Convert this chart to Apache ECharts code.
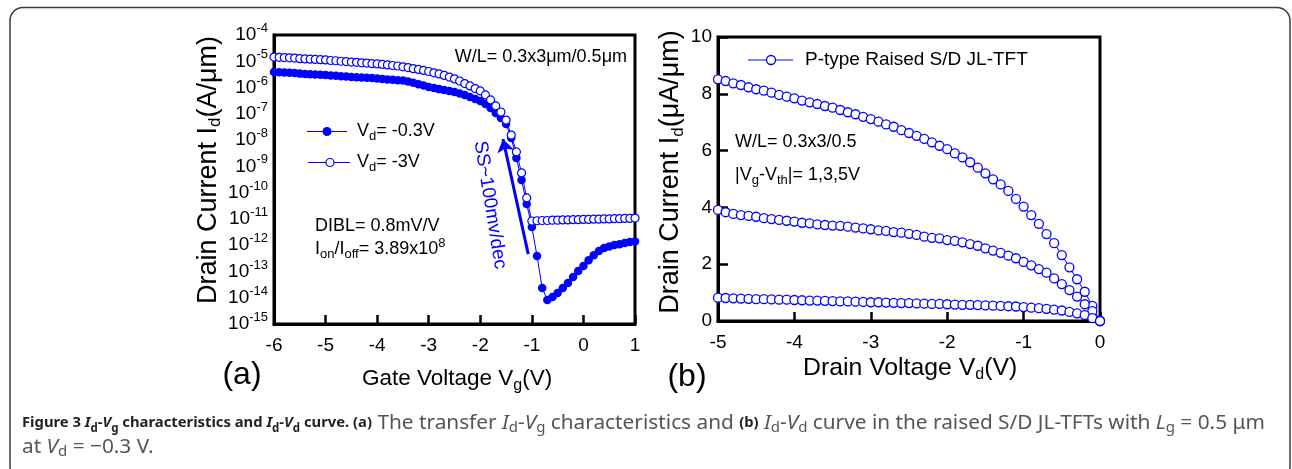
<!DOCTYPE html>
<html><head><meta charset="utf-8">
<script src="https://cdn.jsdelivr.net/npm/echarts@6/dist/echarts.min.js"></script>
<style>html,body{margin:0;padding:0;background:#fff}#c{width:1292px;height:469px}</style>
</head><body><div id="c"></div>
<script>
// ---------- Panel (a): Id-Vg, gate voltage (V) ----------
const vgTicks = [-6, -5, -4, -3, -2, -1, 0, 1];
const vg = [-6.0,-5.9,-5.8,-5.7,-5.6,-5.5,-5.4,-5.3,-5.2,-5.1,
  -5.0,-4.9,-4.8,-4.7,-4.6,-4.5,-4.4,-4.3,-4.2,-4.1,
  -4.0,-3.9,-3.8,-3.7,-3.6,-3.5,-3.4,-3.3,-3.2,-3.1,
  -3.0,-2.9,-2.8,-2.7,-2.6,-2.5,-2.4,-2.3,-2.2,-2.1,
  -2.0,-1.9,-1.8,-1.7,-1.6,-1.5,-1.4,-1.3,-1.2,-1.1,
  -1.0,-0.9,-0.8,-0.7,-0.6,-0.5,-0.4,-0.3,-0.2,-0.1,
  0.0,0.1,0.2,0.3,0.4,0.5,0.6,0.7,0.8,0.9,1.0];
// log10 of Id (A/um), Vd = -0.3 V (filled)
const logIdVd03 = [-5.41,-5.42,-5.43,-5.44,-5.45,-5.47,-5.48,-5.49,-5.50,-5.51,
  -5.52,-5.54,-5.55,-5.57,-5.58,-5.60,-5.61,-5.62,-5.63,-5.64,
  -5.66,-5.67,-5.69,-5.70,-5.72,-5.73,-5.77,-5.82,-5.87,-5.92,
  -5.98,-6.02,-6.06,-6.09,-6.13,-6.17,-6.23,-6.28,-6.36,-6.44,
  -6.51,-6.63,-6.78,-6.97,-7.16,-7.39,-7.92,-8.68,-9.52,-10.43,
  -11.31,-12.41,-13.63,-14.09,-13.97,-13.82,-13.63,-13.44,-13.21,-12.98,
  -12.79,-12.57,-12.38,-12.22,-12.11,-12.05,-11.99,-11.96,-11.92,-11.88,-11.86];
// log10 of Id (A/um), Vd = -3 V (open)
const logIdVd3 = [-4.84,-4.85,-4.86,-4.87,-4.88,-4.90,-4.91,-4.92,-4.93,-4.94,
  -4.95,-4.97,-4.98,-5.00,-5.01,-5.03,-5.04,-5.06,-5.07,-5.09,
  -5.10,-5.12,-5.14,-5.16,-5.18,-5.21,-5.24,-5.28,-5.31,-5.35,
  -5.39,-5.44,-5.48,-5.54,-5.60,-5.67,-5.75,-5.85,-5.94,-6.04,
  -6.13,-6.28,-6.47,-6.70,-6.93,-7.24,-7.81,-8.45,-9.25,-10.20,
  -11.08,-11.07,-11.06,-11.06,-11.05,-11.05,-11.04,-11.04,-11.03,-11.03,
  -11.02,-11.02,-11.01,-11.01,-11.00,-11.00,-10.99,-10.99,-10.98,-10.98,-10.97];
const idLogMin = -15, idLogMax = -4;
// SS arrow (Vg, log10 Id): tail -> head
const ssArrow = [[-1.07, -12.34], [-1.56, -7.96]];

// ---------- Panel (b): Id-Vd, drain voltage (V) ----------
const vdTicks = [-5, -4, -3, -2, -1, 0];
const vd = [-5.0,-4.9,-4.8,-4.7,-4.6,-4.5,-4.4,-4.3,-4.2,-4.1,
  -4.0,-3.9,-3.8,-3.7,-3.6,-3.5,-3.4,-3.3,-3.2,-3.1,
  -3.0,-2.9,-2.8,-2.7,-2.6,-2.5,-2.4,-2.3,-2.2,-2.1,
  -2.0,-1.9,-1.8,-1.7,-1.6,-1.5,-1.4,-1.3,-1.2,-1.1,
  -1.0,-0.9,-0.8,-0.7,-0.6,-0.5,-0.4,-0.3,-0.2,-0.1,0.0];
// Id (uA/um) for |Vg-Vth| = 5, 3, 1 V
const id5V = [8.51,8.45,8.37,8.31,8.23,8.16,8.11,8.04,7.96,7.90,
  7.84,7.76,7.70,7.64,7.57,7.51,7.43,7.35,7.28,7.19,
  7.11,7.02,6.92,6.84,6.72,6.62,6.52,6.41,6.29,6.17,
  6.05,5.90,5.76,5.59,5.40,5.20,4.99,4.81,4.58,4.30,
  4.03,3.73,3.42,3.06,2.74,2.32,1.89,1.47,1.03,0.53,0.0];
const id3V = [3.91,3.83,3.77,3.73,3.70,3.67,3.62,3.59,3.56,3.53,
  3.50,3.46,3.44,3.40,3.38,3.36,3.35,3.32,3.29,3.26,
  3.23,3.19,3.17,3.13,3.11,3.07,3.03,2.97,2.93,2.91,
  2.85,2.82,2.77,2.71,2.65,2.56,2.48,2.40,2.30,2.21,
  2.08,1.96,1.83,1.70,1.50,1.30,1.09,0.86,0.59,0.35,0.0];
const id1V = [0.82,0.81,0.80,0.79,0.78,0.77,0.77,0.76,0.75,0.75,
  0.74,0.73,0.72,0.72,0.71,0.70,0.69,0.69,0.68,0.67,
  0.66,0.66,0.65,0.64,0.63,0.63,0.62,0.61,0.60,0.60,
  0.59,0.58,0.57,0.57,0.56,0.55,0.54,0.53,0.52,0.51,
  0.49,0.47,0.45,0.43,0.40,0.37,0.32,0.27,0.21,0.10,0.0];
const idTicks = [0, 2, 4, 6, 8, 10];

// ---------- drawing ----------
const BLUE = '#0000ff';
const FF = '"Liberation Sans", Arial, Helvetica, sans-serif';
const CF = '"Noto Sans", "Open Sans", sans-serif';
const chart = echarts.init(document.getElementById('c'), null, {renderer: 'canvas'});

const pairs = (xs, ys, f) => xs.map((x, i) => [x, f ? f(ys[i]) : ys[i]]);
const pow10 = v => Math.pow(10, v);

// plain (non-rich) graphic text
function txt(x, y, text, o) {
  o = o || {};
  const fs = o.fontSize || 18;
  return {type: 'text', x: x, y: y, rotation: o.rotation || 0, silent: true, z: 100,
    style: {text: text, fontFamily: FF, fontSize: fs, fill: o.fill || '#000',
      align: o.align || 'left', textAlign: o.align || 'left',
      verticalAlign: 'middle', textVerticalAlign: 'middle'}};
}
// rich text label through the title component (left-aligned, centred on cy)
function rt(left, cy, text, fs, subFs, lh) {
  lh = lh || Math.round(fs * 1.35);
  return {left: left, top: cy - lh / 2, padding: 0, itemGap: 0, text: text,
    textStyle: {fontFamily: FF, fontSize: fs, fontWeight: 'normal', color: '#000', lineHeight: lh,
      rich: {
        sub: {fontFamily: FF, fontSize: subFs, fontWeight: 400, color: '#000', lineHeight: 12, verticalAlign: 'bottom'},
        sup: {fontFamily: FF, fontSize: subFs, fontWeight: 400, color: '#000', lineHeight: 12, verticalAlign: 'top'}
      }}};
}

const axisCommonX = (grid, ticks) => ({
  gridIndex: grid, type: 'value', min: ticks[0], max: ticks[ticks.length - 1], interval: 1,
  axisLine: {onZero: false, lineStyle: {color: '#000', width: 3}},
  axisTick: {inside: true, length: 9, lineStyle: {color: '#000', width: 2.5}},
  axisLabel: {color: '#000', fontFamily: FF, fontSize: 19, margin: 12},
  splitLine: {show: false}
});
const yNameStyle = (pad) => ({
  fontFamily: FF, fontSize: 27, color: '#000', lineHeight: 32, padding: [0, 0, 0, pad],
  rich: {sub: {fontFamily: FF, fontSize: 17, fontWeight: 400, color: '#000', lineHeight: 14, verticalAlign: 'bottom'}}
});

const caption =
  '{b|Figure 3 }{bi|I}{bsub|d}{b|-}{bi|V}{bsub|g}{b| characteristics and }{bi|I}{bsub|d}{b|-}{bi|V}{bsub|d}{b| curve. (a)}' +
  ' The transfer {i|I}{sub|d}-{i|V}{sub|g} characteristics and {b|(b)} {i|I}{sub|d}-{i|V}{sub|d}' +
  ' curve in the raised S/D JL-TFTs with {i|L}{sub|g} = 0.5 μm\nat {i|V}{sub|d} = −0.3 V.';
const capDark = '#231f20', capGrey = '#555557';
const CS = 20.8, CSS = 15, CB = 14.8;
const capRich = {
  b: {fontFamily: CF, fontSize: CB, fontWeight: 'bold', color: capDark, lineHeight: 24},
  bi: {fontFamily: CF, fontSize: CB, fontWeight: 'bold', fontStyle: 'italic', color: capDark, lineHeight: 24},
  bsub: {fontFamily: CF, fontSize: 11.5, fontWeight: 'bold', color: capDark, lineHeight: 12, verticalAlign: 'bottom'},
  i: {fontFamily: CF, fontSize: CS, fontWeight: 400, fontStyle: 'italic', color: capGrey, lineHeight: 24},
  sub: {fontFamily: CF, fontSize: CSS, fontWeight: 400, color: capGrey, lineHeight: 12, verticalAlign: 'bottom'}
};

const option = {
  animation: false,
  backgroundColor: '#fff',
  title: [
    {left: 22, top: 411, padding: 0, itemGap: 0, text: caption,
      textStyle: {fontFamily: CF, fontSize: CS, fontWeight: 'normal', color: capGrey, lineHeight: 24, rich: capRich}},
    rt(357, 131, 'V{sub|d}= -0.3V', 18, 13),
    rt(357, 162, 'V{sub|d}= -3V', 18, 13),
    rt(315, 249, 'I{sub|on}/I{sub|off}= 3.89x10{sup|8}', 18, 13),
    rt(735, 175, '|V{sub|g}-V{sub|th}|= 1,3,5V', 18, 13),
    rt(362, 379, 'Gate Voltage V{sub|g}(V)', 22.5, 16, 30),
    rt(803, 368, 'Drain Voltage V{sub|d}(V)', 24.8, 16, 30)
  ],
  grid: [
    {left: 274, top: 35, width: 361, height: 289, show: true, borderColor: '#000', borderWidth: 3, backgroundColor: 'transparent'},
    {left: 718, top: 37, width: 382, height: 284, show: true, borderColor: '#000', borderWidth: 3, backgroundColor: 'transparent'}
  ],
  xAxis: [axisCommonX(0, vgTicks), axisCommonX(1, vdTicks)],
  yAxis: [
    {gridIndex: 0, type: 'log', logBase: 10, min: pow10(idLogMin), max: pow10(idLogMax), interval: 1,
      name: 'Drain Current I{sub|d}(A/μm)', nameLocation: 'middle', nameRotate: 90, nameGap: 49,
      nameTextStyle: yNameStyle(19),
      axisLine: {onZero: false, lineStyle: {color: '#000', width: 3}},
      axisTick: {show: false}, splitLine: {show: false}, minorTick: {show: false},
      axisLabel: {color: '#000', fontFamily: FF, fontSize: 19, lineHeight: 26, margin: 6,
        formatter: v => '10{sup|' + Math.round(Math.log10(v)) + '}',
        rich: {sup: {fontFamily: FF, fontSize: 13, fontWeight: 400, lineHeight: 12, verticalAlign: 'top', color: '#000'}}}
    },
    {gridIndex: 1, type: 'value', min: idTicks[0], max: idTicks[idTicks.length - 1], interval: 2,
      name: 'Drain Current I{sub|d}(μA/μm)', nameLocation: 'middle', nameRotate: 90, nameGap: 23,
      nameTextStyle: yNameStyle(14),
      axisLine: {onZero: false, lineStyle: {color: '#000', width: 3}},
      axisTick: {inside: true, length: 10, lineStyle: {color: '#000', width: 2.5}},
      splitLine: {show: false},
      axisLabel: {color: '#000', fontFamily: FF, fontSize: 19, margin: 6}
    }
  ],
  series: [
    {name: 'Vd=-0.3V', type: 'line', xAxisIndex: 0, yAxisIndex: 0, data: pairs(vg, logIdVd03, pow10),
      symbol: 'circle', symbolSize: 8.5, itemStyle: {color: BLUE}, lineStyle: {color: BLUE, width: 1},
      z: 3,
      markLine: {silent: true, symbol: ['none', 'arrow'], symbolSize: 13, animation: false,
        label: {show: false}, lineStyle: {color: BLUE, width: 3, type: 'solid'},
        emphasis: {disabled: true},
        data: [[{coord: [ssArrow[0][0], pow10(ssArrow[0][1])]}, {coord: [ssArrow[1][0], pow10(ssArrow[1][1])]}]]}
    },
    {name: 'Vd=-3V', type: 'line', xAxisIndex: 0, yAxisIndex: 0, data: pairs(vg, logIdVd3, pow10),
      symbol: 'circle', symbolSize: 8, itemStyle: {color: '#fff', borderColor: BLUE, borderWidth: 1.2},
      lineStyle: {color: BLUE, width: 1}, z: 4},
    {name: '5V', type: 'line', xAxisIndex: 1, yAxisIndex: 1, data: pairs(vd, id5V),
      symbol: 'circle', symbolSize: 9, itemStyle: {color: '#fff', borderColor: BLUE, borderWidth: 1.3},
      lineStyle: {color: BLUE, width: 1}},
    {name: '3V', type: 'line', xAxisIndex: 1, yAxisIndex: 1, data: pairs(vd, id3V),
      symbol: 'circle', symbolSize: 9, itemStyle: {color: '#fff', borderColor: BLUE, borderWidth: 1.3},
      lineStyle: {color: BLUE, width: 1}},
    {name: '1V', type: 'line', xAxisIndex: 1, yAxisIndex: 1, data: pairs(vd, id1V),
      symbol: 'circle', symbolSize: 9, itemStyle: {color: '#fff', borderColor: BLUE, borderWidth: 1.3},
      lineStyle: {color: BLUE, width: 1}}
  ],
  graphic: [
    {type: 'rect', shape: {x: 10, y: 7.5, width: 1280, height: 472, r: 13}, silent: true, z: 0,
      style: {fill: 'none', stroke: '#3a3a3a', lineWidth: 1.5}},
    // panel (a) texts
    txt(242, 375, '(a)', {fontSize: 32, align: 'center'}),
    txt(627, 57, 'W/L= 0.3x3μm/0.5μm', {fontSize: 18, align: 'right'}),
    txt(315, 226, 'DIBL= 0.8mV/V', {fontSize: 18}),
    txt(490, 205, 'SS~100mv/dec', {fontSize: 19, fill: BLUE, align: 'center', rotation: -1.41}),
    {type: 'line', shape: {x1: 307, y1: 131.5, x2: 347, y2: 131.5}, silent: true, z: 100, style: {stroke: BLUE, lineWidth: 1}},
    {type: 'circle', shape: {cx: 327, cy: 131.5, r: 4.5}, silent: true, z: 101, style: {fill: BLUE}},
    {type: 'line', shape: {x1: 308, y1: 162.5, x2: 350, y2: 162.5}, silent: true, z: 100, style: {stroke: BLUE, lineWidth: 1}},
    {type: 'circle', shape: {cx: 330, cy: 162.5, r: 4}, silent: true, z: 101, style: {fill: '#fff', stroke: BLUE, lineWidth: 1.2}},
    // panel (b) texts
    txt(687, 377, '(b)', {fontSize: 32, align: 'center'}),
    txt(805, 60, 'P-type Raised S/D JL-TFT', {fontSize: 19}),
    txt(735, 142, 'W/L= 0.3x3/0.5', {fontSize: 18}),
    {type: 'line', shape: {x1: 748, y1: 60, x2: 793, y2: 60}, silent: true, z: 100, style: {stroke: BLUE, lineWidth: 1}},
    {type: 'circle', shape: {cx: 771, cy: 60, r: 4.5}, silent: true, z: 101, style: {fill: '#fff', stroke: BLUE, lineWidth: 1.3}}
  ]
};
chart.setOption(option);
</script>
</body></html>
